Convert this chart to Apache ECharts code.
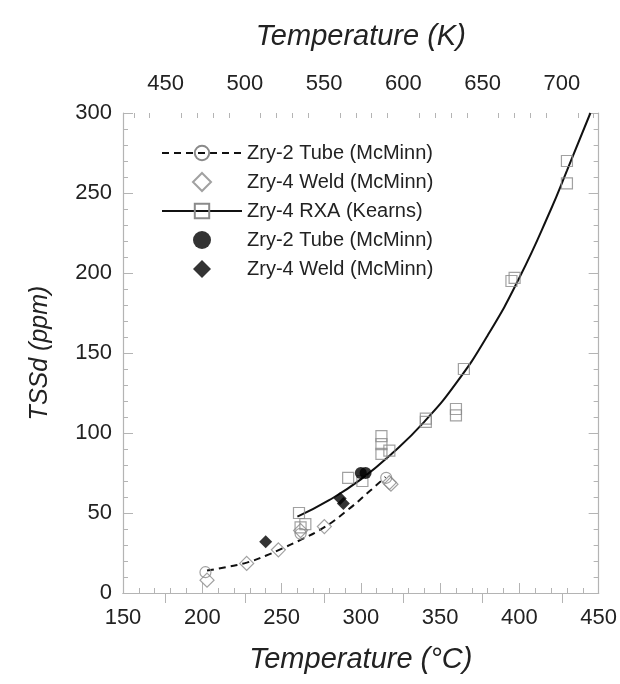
<!DOCTYPE html>
<html lang="en">
<head>
<meta charset="UTF-8">
<title>TSSd vs Temperature</title>
<script src="https://cdn.jsdelivr.net/npm/echarts@6/dist/echarts.min.js"></script>
<style>
  html, body { margin: 0; padding: 0; background: #fff; }
  #chart { width: 620px; height: 684px; }
</style>
</head>
<body>
<div id="chart"></div>
<script>
// top axis (K) tick positions
var kelvinLabels = [450, 500, 550, 600, 650, 700];
var kelvinMinor = [430, 440, 460, 470, 480, 490, 510, 520, 530, 540, 560, 570, 580, 590,
                   610, 620, 630, 640, 660, 670, 680, 690, 710, 720];

// [temperature °C, TSSd ppm]
var zry2TubeFit = [[203, 14], [215, 16.2], [228, 19], [240, 23.3], [248.5, 27], [262, 33.2],
                   [276, 40.5], [290, 50.5], [306, 64], [315.5, 72.5]];
var zry2TubeOpen = [[202, 13], [262, 37], [316, 72]];
var zry4WeldOpen = [[203, 8], [228, 18.5], [248, 27], [262, 39], [277, 41.5], [318, 69], [319, 68]];
var rxaFit = [[260, 47.7], [280, 58], [300, 71], [320, 87.5], [340, 107], [360, 131],
              [380, 161], [400, 197], [420, 240], [430, 264], [444.8, 300]];
var rxaData = [[261, 50], [262, 41], [265, 43], [292, 72], [301, 70], [313, 98], [313, 93],
               [313, 87], [318, 89], [341, 107], [341, 109], [360, 111], [360, 115], [365, 140],
               [395, 195], [397, 197], [430, 256], [430, 270]];
var zry2TubeSolid = [[300, 75], [303, 75]];
var zry4WeldSolid = [[240, 32], [287, 59], [289, 56]];

var FONT = '"Liberation Sans", Arial, sans-serif';
var GRID_GRAY = '#b4b4b4';
var MARK_GRAY = '#8a8a8a';
// diamond outline that keeps its aspect inside the wide legend box
var DIAMOND_ICON = 'path://M10,0L20,10L10,20L0,10Z';

function frameAxis(extra) {
    var base = {
        axisLine: { show: true, lineStyle: { color: GRID_GRAY, width: 1.2 } },
        axisTick: { show: true, inside: true, length: 10, lineStyle: { color: GRID_GRAY } },
        minorTick: { show: true, splitNumber: 5, length: 5, lineStyle: { color: GRID_GRAY } },
        splitLine: { show: false },
        axisLabel: { color: '#222', fontSize: 22, fontFamily: FONT },
        nameTextStyle: { color: '#222', fontSize: 29, fontStyle: 'italic', fontFamily: FONT }
    };
    return Object.assign(base, extra);
}

var chart = echarts.init(document.getElementById('chart'));

var option = {
    animation: false,
    backgroundColor: '#fff',
    grid: { left: 123, right: 19, top: 113, bottom: 91 },
    legend: {
        orient: 'vertical',
        left: 156,
        top: 138,
        itemWidth: 80,
        itemHeight: 18,
        itemGap: 9,
        symbolKeepAspect: true,
        textStyle: { color: '#222', fontSize: 20, fontFamily: FONT },
        data: [
            { name: 'Zry-2 Tube (McMinn)' },
            { name: 'Zry-4 Weld (McMinn)', icon: DIAMOND_ICON },
            { name: 'Zry-4 RXA (Kearns)' },
            { name: 'Zry-2 Tube (McMinn) ' },
            { name: 'Zry-4 Weld (McMinn) ', icon: DIAMOND_ICON }
        ]
    },
    xAxis: [
        frameAxis({
            type: 'value', position: 'bottom', min: 150, max: 450, interval: 50,
            name: 'Temperature (°C)', nameLocation: 'middle', nameGap: 52,
            axisLabel: { color: '#222', fontSize: 22, fontFamily: FONT, margin: 14 }
        }),
        frameAxis({
            type: 'value', position: 'top', min: 423.15, max: 723.15,
            name: 'Temperature (K)', nameLocation: 'middle', nameGap: 62,
            axisTick: { show: true, inside: true, length: 10, lineStyle: { color: GRID_GRAY },
                        customValues: kelvinLabels },
            minorTick: { show: false },
            axisLabel: { color: '#222', fontSize: 22, fontFamily: FONT, margin: 18,
                         customValues: kelvinLabels }
        }),
        frameAxis({
            type: 'value', position: 'top', min: 423.15, max: 723.15,
            axisLine: { show: false },
            axisTick: { show: true, inside: true, length: 5, lineStyle: { color: GRID_GRAY },
                        customValues: kelvinMinor },
            minorTick: { show: false },
            axisLabel: { show: false, customValues: kelvinMinor }
        })
    ],
    yAxis: [
        frameAxis({
            type: 'value', position: 'left', min: 0, max: 300, interval: 50,
            name: 'TSSd (ppm)', nameLocation: 'middle', nameGap: 70,
            nameTextStyle: { color: '#222', fontSize: 25, fontStyle: 'italic', fontFamily: FONT },
            axisLabel: { color: '#222', fontSize: 22, fontFamily: FONT, margin: 11 }
        }),
        frameAxis({
            type: 'value', position: 'right', min: 0, max: 300, interval: 50,
            axisLabel: { show: false }
        })
    ],
    series: [
        {
            name: 'Zry-2 Tube (McMinn)', type: 'line', data: zry2TubeFit, smooth: true,
            showSymbol: false, symbol: 'circle', symbolSize: 12,
            itemStyle: { color: 'transparent', borderColor: MARK_GRAY, borderWidth: 1.2 },
            lineStyle: { color: '#111', width: 2, type: [7, 5] }, z: 3
        },
        {
            name: 'Zry-2 Tube (McMinn)', type: 'scatter', data: zry2TubeOpen,
            symbol: 'circle', symbolSize: 11,
            itemStyle: { color: 'transparent', borderColor: MARK_GRAY, borderWidth: 1.2 }, z: 4
        },
        {
            name: 'Zry-4 Weld (McMinn)', type: 'scatter', data: zry4WeldOpen,
            symbol: 'diamond', symbolSize: 14,
            itemStyle: { color: 'transparent', borderColor: MARK_GRAY, borderWidth: 1.2 }, z: 4
        },
        {
            name: 'Zry-4 RXA (Kearns)', type: 'line', data: rxaFit, smooth: true,
            showSymbol: false, symbol: 'rect', symbolSize: 12,
            itemStyle: { color: 'transparent', borderColor: MARK_GRAY, borderWidth: 1.2 },
            lineStyle: { color: '#111', width: 2 }, z: 3
        },
        {
            name: 'Zry-4 RXA (Kearns)', type: 'scatter', data: rxaData,
            symbol: 'rect', symbolSize: 11,
            itemStyle: { color: 'transparent', borderColor: MARK_GRAY, borderWidth: 1.2 }, z: 4
        },
        {
            name: 'Zry-2 Tube (McMinn) ', type: 'scatter', data: zry2TubeSolid,
            symbol: 'circle', symbolSize: 12,
            itemStyle: { color: '#000' }, z: 5
        },
        {
            name: 'Zry-4 Weld (McMinn) ', type: 'scatter', data: zry4WeldSolid,
            symbol: 'diamond', symbolSize: 13,
            itemStyle: { color: '#000' }, z: 5
        }
    ]
};

chart.setOption(option);
</script>
</body>
</html>
